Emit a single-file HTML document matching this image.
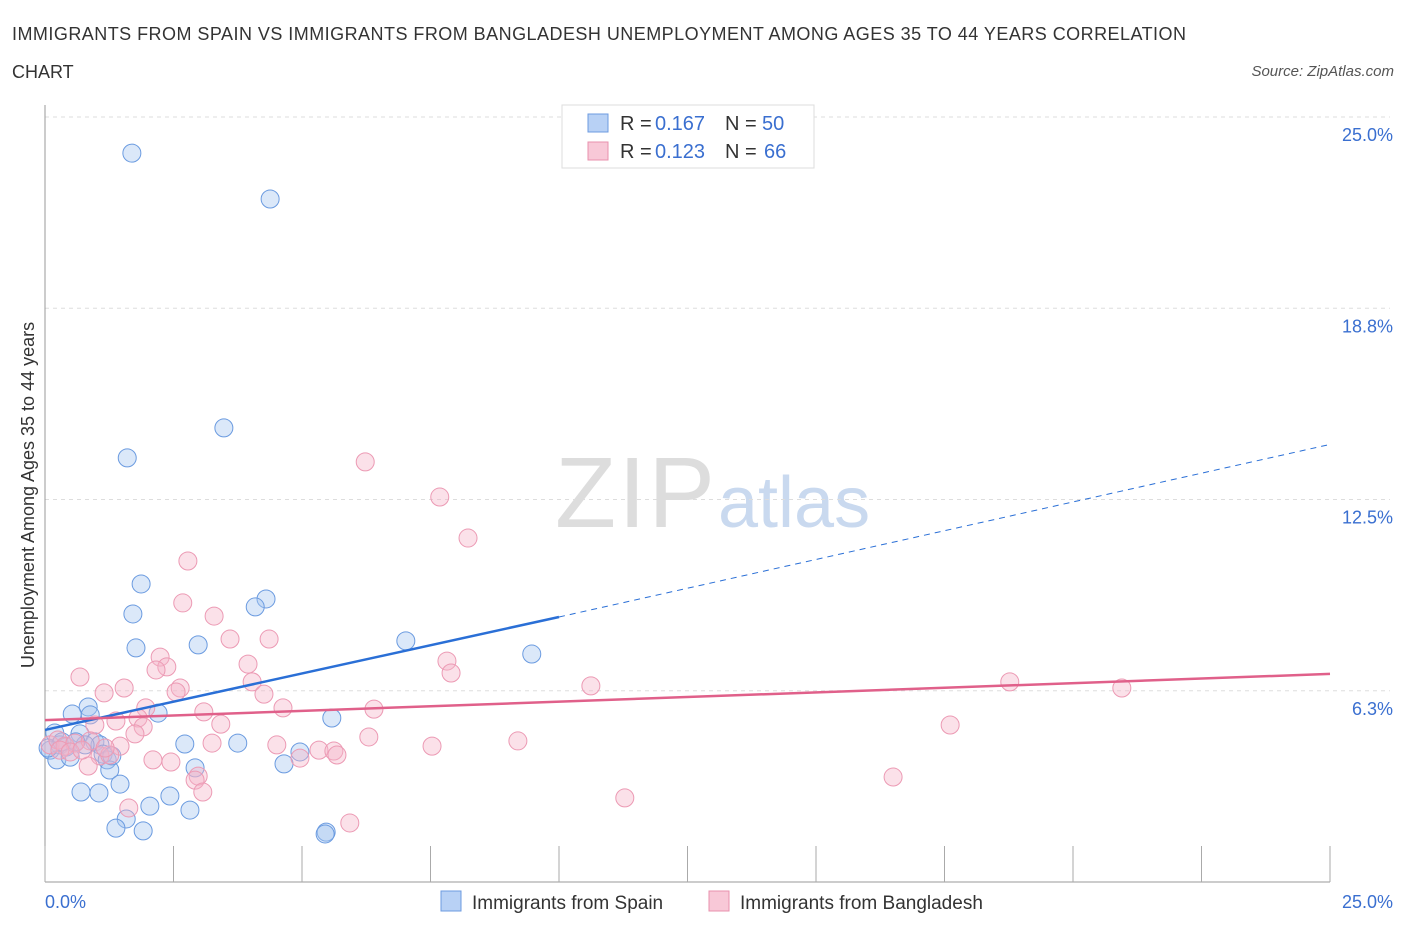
<!DOCTYPE html>
<html><head><meta charset="utf-8"><style>
body{margin:0;background:#fff;font-family:"Liberation Sans",sans-serif;}
svg text{font-family:"Liberation Sans",sans-serif;}
</style></head><body>
<svg id="chart" width="1406" height="930" xmlns="http://www.w3.org/2000/svg">
<text x="12" y="40" font-size="18" fill="#333" textLength="1174">IMMIGRANTS FROM SPAIN VS IMMIGRANTS FROM BANGLADESH UNEMPLOYMENT AMONG AGES 35 TO 44 YEARS CORRELATION</text>
<text x="12" y="78" font-size="18" fill="#333">CHART</text>
<text x="1394" y="76" font-size="15" fill="#555" text-anchor="end" font-style="italic">Source: ZipAtlas.com</text>
<text x="555" y="527" font-size="100" fill="#ddd" font-family="Liberation Serif" textLength="160">ZIP</text>
<text x="718" y="527" font-size="72" fill="#c9d9ef">atlas</text>
<g id="grid"></g><g id="pts"></g><g id="lines"></g>
<text transform="translate(34,495) rotate(-90)" font-size="18" fill="#333" text-anchor="middle">Unemployment Among Ages 35 to 44 years</text>
<text x="45" y="908" font-size="18" fill="#3a6fd0">0.0%</text>
<text x="1393" y="908" font-size="18" fill="#3a6fd0" text-anchor="end">25.0%</text>
<g>
<rect x="562" y="105" width="252" height="63" fill="#fff" stroke="#ddd"/>
<rect x="588" y="114" width="20" height="18" fill="#b8d1f5" stroke="#6d9be0"/>
<rect x="588" y="142" width="20" height="18" fill="#f8c8d7" stroke="#e891ad"/>
<text y="130" font-size="20" fill="#333"><tspan x="620">R = </tspan><tspan x="655" fill="#3a6fd0">0.167</tspan><tspan x="725">N = </tspan><tspan x="762" fill="#3a6fd0">50</tspan></text>
<text y="158" font-size="20" fill="#333"><tspan x="620">R = </tspan><tspan x="655" fill="#3a6fd0">0.123</tspan><tspan x="725">N = </tspan><tspan x="764" fill="#3a6fd0">66</tspan></text>
</g>
<g>
<rect x="441" y="891" width="20" height="20" fill="#b8d1f5" stroke="#6d9be0"/>
<text x="472" y="909" font-size="19" fill="#333">Immigrants from Spain</text>
<rect x="709" y="891" width="20" height="20" fill="#f8c8d7" stroke="#e891ad"/>
<text x="740" y="909" font-size="19" fill="#333">Immigrants from Bangladesh</text>
</g>
</svg>
<script>
const yTicks=[6.25,12.5,18.75,25];
const yTickLabels=["6.3%","12.5%","18.8%","25.0%"];
const spainPx=[[132,153],[270,199],[224,428],[127,458],[141,584],[133,614],[266,599],[255,607],[136,648],[198,645],[406,641],[532,654],[158,713],[332,718],[88,707],[72,714],[90,715],[55,733],[60,745],[66,747],[50,750],[80,734],[95,742],[100,745],[103,754],[107,760],[110,770],[120,784],[57,760],[70,757],[185,744],[238,743],[300,752],[284,764],[195,768],[81,792],[99,793],[150,806],[170,796],[190,810],[126,819],[116,828],[143,831],[326,832],[325,834],[48,748],[62,742],[85,745],[112,756],[76,742]];
const bangPx=[[365,462],[440,497],[468,538],[188,561],[183,603],[214,616],[230,639],[269,639],[160,657],[167,667],[156,670],[248,664],[447,661],[451,673],[80,677],[124,688],[180,688],[176,692],[104,693],[252,682],[264,694],[591,686],[1010,682],[1122,688],[146,708],[204,712],[283,708],[374,709],[138,718],[116,721],[95,725],[143,727],[221,724],[950,725],[135,734],[369,737],[518,741],[212,743],[120,746],[277,745],[319,750],[334,751],[337,755],[432,746],[153,760],[171,762],[100,756],[88,766],[110,755],[300,758],[198,776],[195,780],[893,777],[203,792],[129,808],[350,823],[625,798],[50,745],[58,740],[65,746],[75,743],[90,741],[60,750],[70,752],[82,750],[105,748]];
const spainX=spainPx.map(p=>+((p[0]-45)/51.4).toFixed(2));
const spainY=spainPx.map(p=>+((882-p[1])/30.6).toFixed(2));
const bangX=bangPx.map(p=>+((p[0]-45)/51.4).toFixed(2));
const bangY=bangPx.map(p=>+((882-p[1])/30.6).toFixed(2));
const spainTrend=[4.97,8.66,14.3];
const bangTrend=[5.29,6.8];
const NS="http://www.w3.org/2000/svg";
const xs=v=>45+v*51.4, ys=v=>882-v*30.6;
function mk(t,a,parent){const e=document.createElementNS(NS,t);for(const k in a)e.setAttribute(k,a[k]);parent.appendChild(e);return e;}
const grid=document.getElementById('grid');
yTicks.forEach((t,i)=>{
 const l=mk('line',{x1:45,x2:1390,y1:ys(t),y2:ys(t),stroke:'#ddd','stroke-dasharray':'4,4'},grid);
 
 
 const tx=mk('text',{x:1393,y:ys(t)+24,'font-size':18,fill:'#3a6fd0','text-anchor':'end'},grid);
 tx.textContent=yTickLabels[i];
 
 
});
const ax=mk('line',{x1:45,x2:45,y1:105,y2:882,stroke:'#999'},grid);


const bx=mk('line',{x1:45,x2:1330,y1:882,y2:882,stroke:'#999'},grid);


for(let i=0;i<=10;i++){const tk=mk('line',{x1:xs(i*2.5),x2:xs(i*2.5),y1:846,y2:882,stroke:'#aaa'},grid);
 
 }
const pts=document.getElementById('pts');
spainX.forEach((x,i)=>{const c=mk('circle',{cx:xs(x),cy:ys(spainY[i]),r:9,fill:'rgba(165,198,240,0.4)',stroke:'#6b9be0','stroke-width':1},pts);
 
 });
bangX.forEach((x,i)=>{const c=mk('circle',{cx:xs(x),cy:ys(bangY[i]),r:9,fill:'rgba(245,180,200,0.4)',stroke:'#ec9ab4','stroke-width':1},pts);
 
 });
const ln=document.getElementById('lines');
const l1=mk('line',{x1:xs(0),y1:ys(spainTrend[0]),x2:xs(10),y2:ys(spainTrend[1]),stroke:'#2a6fd6','stroke-width':2.5},ln);


const l2=mk('line',{x1:xs(10),y1:ys(spainTrend[1]),x2:xs(25),y2:ys(spainTrend[2]),stroke:'#2a6fd6','stroke-width':1,'stroke-dasharray':'6,5'},ln);


const l3=mk('line',{x1:xs(0),y1:ys(bangTrend[0]),x2:xs(25),y2:ys(bangTrend[1]),stroke:'#e0608a','stroke-width':2.5},ln);


</script>
</body></html>
